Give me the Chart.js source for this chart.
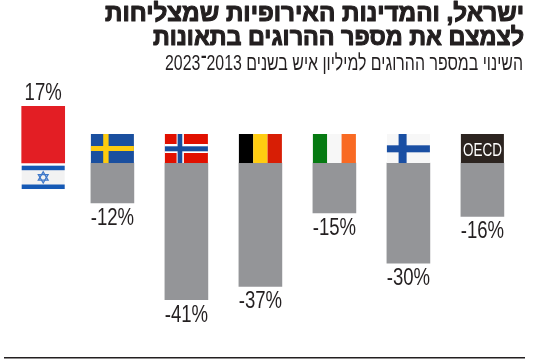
<!DOCTYPE html>
<html lang="he"><head><meta charset="utf-8">
<style>html,body{margin:0;padding:0;background:#fff}#w{position:relative;width:550px;height:363px}</style>
<script src="https://cdn.jsdelivr.net/npm/chart.js@4"></script></head>
<body><div id="w"><canvas id="c" width="550" height="363"></canvas></div>
<script>
const categories = ['Israel','Sweden','Norway','Belgium','Ireland','Finland','OECD'];
const changePercent = [17,-12,-41,-37,-15,-30,-16];
const titleLines = ['ישראל, והמדינות האירופיות שמצליחות','לצמצם את מספר ההרוגים בתאונות'];
const subtitle = 'השינוי במספר ההרוגים למיליון איש בשנים 2013־2023';
const redBar = '#e31e24', greyBar = '#949598';
const ISRAEL_NUDGE = 4.8;
const FLAG_H = 29, SANS = '"Liberation Sans",sans-serif', INK = '#231f20';

function rect(ctx,c,x,y,w,h){ctx.fillStyle=c;ctx.fillRect(x,y,w,h);}
function narrowText(ctx,s,x,base,size,k,color){
  ctx.save();ctx.direction='ltr';ctx.font=size+'px '+SANS;ctx.fillStyle=color;ctx.textAlign='center';ctx.textBaseline='alphabetic';
  ctx.translate(x,base);ctx.scale(k,1);ctx.fillText(s,0,0);ctx.restore();
}
const flags = {
 Israel(ctx,x,y,w){
  rect(ctx,'#f2f2f2',x,y,w,23.5);rect(ctx,'#1559b5',x,y,w,4.5);rect(ctx,'#1559b5',x,y+18.8,w,4.5);
  const cx=x+w/2,cy=y+11.7,r=5.6;ctx.strokeStyle='#3f78c9';ctx.lineWidth=1.3;
  [-Math.PI/2,Math.PI/2].forEach(a=>{ctx.beginPath();for(let i=0;i<3;i++){const t=a+i*2*Math.PI/3;ctx[i?'lineTo':'moveTo'](cx+r*Math.cos(t),cy+r*Math.sin(t));}ctx.closePath();ctx.stroke();});
 },
 Sweden(ctx,x,y,w){rect(ctx,'#1a4f9f',x,y,w,FLAG_H);rect(ctx,'#fdcb0f',x+12.3,y,5.4,FLAG_H);rect(ctx,'#fdcb0f',x,y+12,w,5);},
 Norway(ctx,x,y,w){rect(ctx,'#e11000',x,y,w,FLAG_H);rect(ctx,'#fff',x+11.7,y,7.3,FLAG_H);rect(ctx,'#fff',x,y+10,w,9);rect(ctx,'#174f9f',x+12.7,y,4.7,FLAG_H);rect(ctx,'#174f9f',x,y+12.3,w,5);},
 Belgium(ctx,x,y,w){const t=w/3;rect(ctx,'#000',x,y,t,FLAG_H);rect(ctx,'#ffcc11',x+t,y,t,FLAG_H);rect(ctx,'#d81e05',x+2*t,y,t,FLAG_H);},
 Ireland(ctx,x,y,w){const t=w/3;rect(ctx,'#067a12',x,y,t,FLAG_H);rect(ctx,'#f7f7f7',x+t,y,t,FLAG_H);rect(ctx,'#f96a23',x+2*t,y,t,FLAG_H);},
 Finland(ctx,x,y,w){rect(ctx,'#f7f7f7',x,y,w,FLAG_H);rect(ctx,'#1a4fa3',x+11.7,y,8,FLAG_H);rect(ctx,'#1a4fa3',x,y+11.3,w,7);},
 OECD(ctx,x,y,w){rect(ctx,'#2c2420',x,y,w,FLAG_H);narrowText(ctx,'OECD',x+w/2,y+22,18,0.75,'#fff');}
};
function rtlText(ctx,s,right,base,font,targetW,color,heavy){
  ctx.save();ctx.direction='rtl';ctx.textAlign='right';ctx.textBaseline='alphabetic';ctx.font=font;ctx.fillStyle=color;
  const k=targetW/ctx.measureText(s).width;
  ctx.translate(right,base);ctx.scale(k,1);ctx.fillText(s,0,0);
  if(heavy){ctx.strokeStyle=color;ctx.lineWidth=heavy;ctx.lineJoin='round';ctx.strokeText(s,0,0);}
  ctx.restore();
}
const decor = {
 id:'decor',
 afterDatasetsUpdate(chart){
  chart.getDatasetMeta(0).data[0].x+=ISRAEL_NUDGE;
 },
 afterDatasetsDraw(chart){
  const {ctx,scales:{y}}=chart,zero=y.getPixelForValue(0),els=chart.getDatasetMeta(0).data;
  els.forEach((el,i)=>{
   const w=el.width,x=el.x-w/2,v=changePercent[i];
   ctx.save();
   flags[categories[i]](ctx,x,v<0?zero-FLAG_H:zero+2.7,w);
   ctx.restore();
   const t=(v<0?'-':'')+Math.abs(v)+'%';
   narrowText(ctx,t,el.x,v<0?el.y+22:el.y-6,23.5,0.79,INK);
  });
  rtlText(ctx,titleLines[0],524,21,'bold 25px '+SANS,419,INK,1.1);
  rtlText(ctx,titleLines[1],524,45,'bold 25px '+SANS,371,INK,1.1);
  rtlText(ctx,subtitle,523,69.5,'22px '+SANS,358,INK);
  ctx.fillStyle=INK;ctx.fillRect(4,357,521,1.5);
 }
};
new Chart(document.getElementById('c'),{
 type:'bar',
 data:{labels:categories,datasets:[{data:changePercent,backgroundColor:changePercent.map(v=>v>0?redBar:greyBar),borderWidth:0,barThickness:43,clip:false}]},
 options:{responsive:false,animation:false,
  layout:{padding:{left:1.4,right:30.6,top:0,bottom:0}},
  plugins:{legend:{display:false},tooltip:{enabled:false}},
  scales:{
   x:{display:false},
   y:{display:false,min:-59.97,max:48.88}
  }},
 plugins:[decor]
});
</script></body></html>
